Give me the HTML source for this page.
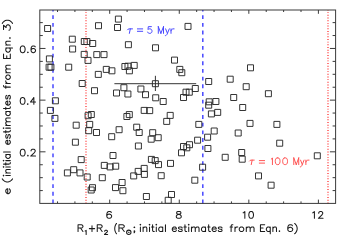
<!DOCTYPE html>
<html><head><meta charset="utf-8"><title>plot</title>
<style>html,body{margin:0;padding:0;background:#fff;}svg{display:block;}text{font-family:"Liberation Sans",sans-serif;}</style></head>
<body>
<svg width="339" height="244" viewBox="0 0 339 244">
<rect width="339" height="244" fill="#fff"/>
<g fill="none">
<line x1="53.0" y1="203.4" x2="53.0" y2="10.0" stroke="#4848ff" stroke-width="1.5" stroke-dasharray="3.85 3.83"/>
<line x1="202.8" y1="203.4" x2="202.8" y2="10.0" stroke="#4848ff" stroke-width="1.5" stroke-dasharray="3.85 3.83"/>
<line x1="86.0" y1="203.4" x2="86.0" y2="10.0" stroke="#ff3232" stroke-width="1.3" stroke-dasharray="0.95 1.73"/>
<line x1="328.0" y1="203.4" x2="328.0" y2="10.0" stroke="#ff3232" stroke-width="1.3" stroke-dasharray="0.95 1.73"/>
</g>
<g fill="none" stroke="#2a2a2a" stroke-width="0.95">
<path d="M44.6 25.5h6v6h-6zM69.3 36.2h6v6h-6zM69.6 46.0h6v6h-6zM81.3 38.5h6v6h-6zM83.9 38.5h6v6h-6zM89.7 40.5h6v6h-6zM95.5 22.7h6v6h-6zM115.4 16.1h6v6h-6zM114.5 24.5h6v6h-6zM81.2 51.4h6v6h-6zM93.8 51.6h6v6h-6zM101.0 51.6h6v6h-6zM85.0 57.4h6v6h-6zM46.4 55.9h6v6h-6zM46.1 64.2h6v6h-6zM47.9 64.2h6v6h-6zM65.7 64.2h6v6h-6zM103.3 66.4h6v6h-6zM125.4 41.7h6v6h-6zM152.5 44.8h6v6h-6zM185.0 23.4h6v6h-6zM171.5 57.1h6v6h-6zM121.9 63.5h6v6h-6zM125.0 63.2h6v6h-6zM131.2 62.4h6v6h-6zM176.8 66.4h6v6h-6zM247.5 64.8h6v6h-6zM108.9 67.8h6v6h-6zM95.3 71.4h6v6h-6zM79.2 80.5h6v6h-6zM91.5 87.7h6v6h-6zM113.5 90.0h6v6h-6zM52.4 97.8h6v6h-6zM47.4 107.4h6v6h-6zM85.1 112.7h6v6h-6zM88.3 111.5h6v6h-6zM51.9 115.4h6v6h-6zM126.4 67.8h6v6h-6zM178.8 69.7h6v6h-6zM152.4 80.7h6v6h-6zM120.9 84.7h6v6h-6zM124.9 91.0h6v6h-6zM137.9 86.0h6v6h-6zM142.5 91.7h6v6h-6zM152.7 94.8h6v6h-6zM160.2 98.5h6v6h-6zM180.5 94.5h6v6h-6zM183.0 89.2h6v6h-6zM186.3 89.2h6v6h-6zM192.3 85.5h6v6h-6zM141.2 107.4h6v6h-6zM146.7 107.6h6v6h-6zM123.9 113.5h6v6h-6zM126.3 111.6h6v6h-6zM167.2 112.4h6v6h-6zM205.7 78.5h6v6h-6zM227.2 76.2h6v6h-6zM243.2 83.7h6v6h-6zM265.4 90.7h6v6h-6zM230.7 94.5h6v6h-6zM206.2 98.8h6v6h-6zM205.7 102.2h6v6h-6zM212.9 98.5h6v6h-6zM239.7 104.5h6v6h-6zM208.4 110.9h6v6h-6zM214.7 109.4h6v6h-6zM73.2 122.2h6v6h-6zM86.7 121.4h6v6h-6zM85.7 127.7h6v6h-6zM93.5 129.5h6v6h-6zM116.1 126.7h6v6h-6zM108.7 133.7h6v6h-6zM72.4 139.2h6v6h-6zM110.0 152.5h6v6h-6zM78.2 156.6h6v6h-6zM101.3 162.4h6v6h-6zM107.1 163.9h6v6h-6zM112.7 163.2h6v6h-6zM163.7 118.4h6v6h-6zM133.7 124.2h6v6h-6zM136.2 129.5h6v6h-6zM149.7 129.7h6v6h-6zM148.2 136.2h6v6h-6zM155.2 134.7h6v6h-6zM135.4 143.0h6v6h-6zM195.8 121.4h6v6h-6zM194.6 137.2h6v6h-6zM186.5 141.7h6v6h-6zM183.8 144.8h6v6h-6zM180.5 143.5h6v6h-6zM178.5 149.8h6v6h-6zM148.4 156.4h6v6h-6zM152.2 157.6h6v6h-6zM155.5 161.6h6v6h-6zM167.5 160.4h6v6h-6zM141.2 165.4h6v6h-6zM247.0 120.4h6v6h-6zM211.2 128.0h6v6h-6zM235.2 130.0h6v6h-6zM204.6 134.2h6v6h-6zM204.9 145.5h6v6h-6zM222.2 154.3h6v6h-6zM238.7 149.5h6v6h-6zM239.2 156.2h6v6h-6zM199.6 164.2h6v6h-6zM273.9 121.4h6v6h-6zM276.7 140.2h6v6h-6zM314.3 152.8h6v6h-6zM70.7 166.7h6v6h-6zM64.4 169.9h6v6h-6zM77.0 169.9h6v6h-6zM84.2 174.0h6v6h-6zM99.3 174.7h6v6h-6zM89.5 184.7h6v6h-6zM88.2 187.0h6v6h-6zM112.5 184.6h6v6h-6zM119.1 179.5h6v6h-6zM135.2 168.4h6v6h-6zM141.4 171.4h6v6h-6zM130.7 172.9h6v6h-6zM158.2 172.7h6v6h-6zM119.9 187.7h6v6h-6zM191.8 177.2h6v6h-6zM143.4 193.5h6v6h-6zM168.5 191.5h6v6h-6zM165.2 197.3h6v6h-6zM255.5 172.9h6v6h-6zM268.1 182.2h6v6h-6z"/>
<path d="M114.4 83.7H196.2M155.4 75.8V91.0"/>
</g>
<g fill="none" stroke="#3a3a3a" stroke-width="1">
<rect x="39.8" y="10.0" width="295.8" height="193.4"/>
<path d="M57.53 203.4v-2.0M57.53 10.0v2.0M74.92 203.4v-2.0M74.92 10.0v2.0M92.31 203.4v-2.0M92.31 10.0v2.0M109.70 203.4v-3.8M109.70 10.0v3.8M127.09 203.4v-2.0M127.09 10.0v2.0M144.48 203.4v-2.0M144.48 10.0v2.0M161.87 203.4v-2.0M161.87 10.0v2.0M179.27 203.4v-3.8M179.27 10.0v3.8M196.66 203.4v-2.0M196.66 10.0v2.0M214.05 203.4v-2.0M214.05 10.0v2.0M231.44 203.4v-2.0M231.44 10.0v2.0M248.83 203.4v-3.8M248.83 10.0v3.8M266.22 203.4v-2.0M266.22 10.0v2.0M283.62 203.4v-2.0M283.62 10.0v2.0M301.01 203.4v-2.0M301.01 10.0v2.0M318.40 203.4v-3.8M318.40 10.0v3.8M39.8 190.58h3.0M335.6 190.58h-3.0M39.8 177.66h3.0M335.6 177.66h-3.0M39.8 164.74h3.0M335.6 164.74h-3.0M39.8 151.82h5.7M335.6 151.82h-5.7M39.8 138.90h3.0M335.6 138.90h-3.0M39.8 125.98h3.0M335.6 125.98h-3.0M39.8 113.06h3.0M335.6 113.06h-3.0M39.8 100.14h5.7M335.6 100.14h-5.7M39.8 87.22h3.0M335.6 87.22h-3.0M39.8 74.30h3.0M335.6 74.30h-3.0M39.8 61.38h3.0M335.6 61.38h-3.0M39.8 48.46h5.7M335.6 48.46h-5.7M39.8 35.54h3.0M335.6 35.54h-3.0M39.8 22.62h3.0M335.6 22.62h-3.0"/>
</g>
<path d="M111.27 212.5L110.9 211.86L109.77 211.54L109.01 211.54L107.88 211.86L107.13 212.83L106.75 214.44L106.75 216.05L107.13 217.33L107.88 217.98L109.01 218.3L109.39 218.3L110.52 217.98L111.27 217.33L111.65 216.37L111.65 216.05L111.27 215.08L110.52 214.44L109.39 214.11L109.01 214.11L107.88 214.44L107.13 215.08L106.75 216.05M178.07 211.54L177.02 211.86L176.67 212.5L176.67 213.15L177.02 213.79L177.72 214.11L179.12 214.44L180.17 214.76L180.87 215.4L181.22 216.05L181.22 217.01L180.87 217.66L180.52 217.98L179.47 218.3L178.07 218.3L177.02 217.98L176.67 217.66L176.32 217.01L176.32 216.05L176.67 215.4L177.37 214.76L178.42 214.44L179.82 214.11L180.52 213.79L180.87 213.15L180.87 212.5L180.52 211.86L179.47 211.54L178.07 211.54M243.18 212.83L243.85 212.5L244.84 211.54L244.84 218.3M250.82 211.54L249.83 211.86L249.16 212.83L248.83 214.44L248.83 215.4L249.16 217.01L249.83 217.98L250.82 218.3L251.49 218.3L252.49 217.98L253.15 217.01L253.48 215.4L253.48 214.44L253.15 212.83L252.49 211.86L251.49 211.54L250.82 211.54M312.75 212.83L313.41 212.5L314.41 211.54L314.41 218.3M318.73 213.15L318.73 212.83L319.06 212.18L319.39 211.86L320.06 211.54L321.39 211.54L322.05 211.86L322.38 212.18L322.72 212.83L322.72 213.47L322.38 214.11L321.72 215.08L318.4 218.3L323.05 218.3M22.34 45.9L21.29 46.22L20.6 47.19L20.25 48.8L20.25 49.76L20.6 51.37L21.29 52.34L22.34 52.66L23.03 52.66L24.07 52.34L24.77 51.37L25.12 49.76L25.12 48.8L24.77 47.19L24.07 46.22L23.03 45.9L22.34 45.9M27.9 52.02L27.55 52.34L27.9 52.66L28.25 52.34L27.9 52.02M35.2 46.86L34.85 46.22L33.81 45.9L33.12 45.9L32.07 46.22L31.38 47.19L31.03 48.8L31.03 50.41L31.38 51.69L32.07 52.34L33.12 52.66L33.46 52.66L34.51 52.34L35.2 51.69L35.55 50.73L35.55 50.41L35.2 49.44L34.51 48.8L33.46 48.47L33.12 48.47L32.07 48.8L31.38 49.44L31.03 50.41M22.29 97.58L21.27 97.9L20.59 98.87L20.25 100.48L20.25 101.44L20.59 103.05L21.27 104.02L22.29 104.34L22.97 104.34L23.99 104.02L24.67 103.05L25.01 101.44L25.01 100.48L24.67 98.87L23.99 97.9L22.97 97.58L22.29 97.58M27.73 103.7L27.39 104.02L27.73 104.34L28.07 104.02L27.73 103.7M33.85 97.58L30.45 102.09L35.55 102.09M33.85 97.58L33.85 104.34M22.34 149.26L21.29 149.58L20.6 150.55L20.25 152.16L20.25 153.12L20.6 154.73L21.29 155.7L22.34 156.02L23.03 156.02L24.07 155.7L24.77 154.73L25.12 153.12L25.12 152.16L24.77 150.55L24.07 149.58L23.03 149.26L22.34 149.26M27.9 155.38L27.55 155.7L27.9 156.02L28.25 155.7L27.9 155.38M31.03 150.87L31.03 150.55L31.38 149.9L31.73 149.58L32.42 149.26L33.81 149.26L34.51 149.58L34.85 149.9L35.2 150.55L35.2 151.19L34.85 151.83L34.16 152.8L30.68 156.02L35.55 156.02M78.05 224.74L78.05 231.5M78.05 224.74L81.2 224.74L82.25 225.06L82.6 225.38L82.95 226.03L82.95 226.67L82.6 227.31L82.25 227.64L81.2 227.96L78.05 227.96M80.5 227.96L82.95 231.5M85.15 231.06L85.55 230.86L86.15 230.26L86.15 234.45M92 225.7L92 231.5M89.35 228.6L94.65 228.6M97.25 224.74L97.25 231.5M97.25 224.74L100.4 224.74L101.45 225.06L101.8 225.38L102.15 226.03L102.15 226.67L101.8 227.31L101.45 227.64L100.4 227.96L97.25 227.96M99.7 227.96L102.15 231.5M104.68 231.26L104.68 231.06L104.91 230.66L105.14 230.46L105.59 230.26L106.51 230.26L106.96 230.46L107.19 230.66L107.42 231.06L107.42 231.46L107.19 231.85L106.74 232.45L104.45 234.45L107.65 234.45M116.55 223.45L116.04 224.09L115.52 225.06L115.01 226.35L114.75 227.96L114.75 229.25L115.01 230.86L115.52 232.14L116.04 233.11L116.55 233.75M118.95 224.74L118.95 231.5M118.95 224.74L122.36 224.74L123.49 225.06L123.87 225.38L124.25 226.03L124.25 226.67L123.87 227.31L123.49 227.64L122.36 227.96L118.95 227.96M121.6 227.96L124.25 231.5M134.35 226.99L133.95 227.31L134.35 227.64L134.75 227.31L134.35 226.99M134.75 231.18L134.35 231.5L133.95 231.18L134.35 230.86L134.75 231.18L134.75 231.82L134.35 232.47L133.95 232.79M126.60000000000001 232.3a2.2 2.2 0 1 0 4.4 0a2.2 2.2 0 1 0 -4.4 0M128.45000000000002 232.3h0.7M140.05 224.74L140.39 225.06L140.73 224.74L140.39 224.42L140.05 224.74M140.39 226.99L140.39 231.5M143.1 226.99L143.1 231.5M143.1 228.28L144.11 227.31L144.79 226.99L145.81 226.99L146.48 227.31L146.82 228.28L146.82 231.5M149.19 224.74L149.53 225.06L149.87 224.74L149.53 224.42L149.19 224.74M149.53 226.99L149.53 231.5M152.58 224.74L152.58 230.21L152.92 231.18L153.6 231.5L154.27 231.5M151.56 226.99L153.94 226.99M155.97 224.74L156.31 225.06L156.64 224.74L156.31 224.42L155.97 224.74M156.31 226.99L156.31 231.5M162.74 226.99L162.74 231.5M162.74 227.96L162.06 227.31L161.39 226.99L160.37 226.99L159.69 227.31L159.02 227.96L158.68 228.92L158.68 229.57L159.02 230.53L159.69 231.18L160.37 231.5L161.39 231.5L162.06 231.18L162.74 230.53M165.45 224.74L165.45 231.5M172.25 228.92L176.37 228.92L176.37 228.28L176.03 227.64L175.68 227.31L175 226.99L173.97 226.99L173.28 227.31L172.59 227.96L172.25 228.92L172.25 229.57L172.59 230.53L173.28 231.18L173.97 231.5L175 231.5L175.68 231.18L176.37 230.53M182.21 227.96L181.87 227.31L180.84 226.99L179.81 226.99L178.78 227.31L178.43 227.96L178.78 228.6L179.46 228.92L181.18 229.25L181.87 229.57L182.21 230.21L182.21 230.53L181.87 231.18L180.84 231.5L179.81 231.5L178.78 231.18L178.43 230.53M184.96 224.74L184.96 230.21L185.3 231.18L185.99 231.5L186.67 231.5M183.93 226.99L186.33 226.99M188.39 224.74L188.74 225.06L189.08 224.74L188.74 224.42L188.39 224.74M188.74 226.99L188.74 231.5M191.48 226.99L191.48 231.5M191.48 228.28L192.51 227.31L193.2 226.99L194.23 226.99L194.92 227.31L195.26 228.28L195.26 231.5M195.26 228.28L196.29 227.31L196.98 226.99L198.01 226.99L198.7 227.31L199.04 228.28L199.04 231.5M205.56 226.99L205.56 231.5M205.56 227.96L204.88 227.31L204.19 226.99L203.16 226.99L202.47 227.31L201.79 227.96L201.44 228.92L201.44 229.57L201.79 230.53L202.47 231.18L203.16 231.5L204.19 231.5L204.88 231.18L205.56 230.53M208.66 224.74L208.66 230.21L209 231.18L209.69 231.5L210.37 231.5M207.63 226.99L210.03 226.99M212.09 228.92L216.21 228.92L216.21 228.28L215.87 227.64L215.52 227.31L214.84 226.99L213.81 226.99L213.12 227.31L212.43 227.96L212.09 228.92L212.09 229.57L212.43 230.53L213.12 231.18L213.81 231.5L214.84 231.5L215.52 231.18L216.21 230.53M222.05 227.96L221.71 227.31L220.68 226.99L219.65 226.99L218.62 227.31L218.27 227.96L218.62 228.6L219.3 228.92L221.02 229.25L221.71 229.57L222.05 230.21L222.05 230.53L221.71 231.18L220.68 231.5L219.65 231.5L218.62 231.18L218.27 230.53M232.87 224.74L232.17 224.74L231.46 225.06L231.11 226.03L231.11 231.5M230.05 226.99L232.52 226.99M234.99 226.99L234.99 231.5M234.99 228.92L235.34 227.96L236.05 227.31L236.76 226.99L237.81 226.99M240.99 226.99L240.29 227.31L239.58 227.96L239.23 228.92L239.23 229.57L239.58 230.53L240.29 231.18L240.99 231.5L242.05 231.5L242.76 231.18L243.46 230.53L243.81 229.57L243.81 228.92L243.46 227.96L242.76 227.31L242.05 226.99L240.99 226.99M246.29 226.99L246.29 231.5M246.29 228.28L247.34 227.31L248.05 226.99L249.11 226.99L249.81 227.31L250.17 228.28L250.17 231.5M250.17 228.28L251.23 227.31L251.93 226.99L252.99 226.99L253.7 227.31L254.05 228.28L254.05 231.5M260.45 224.74L260.45 231.5M260.45 224.74L264.7 224.74M260.45 227.96L263.07 227.96M260.45 231.5L264.7 231.5M270.26 226.99L270.26 233.75M270.26 227.96L269.61 227.31L268.96 226.99L267.97 226.99L267.32 227.31L266.67 227.96L266.34 228.92L266.34 229.57L266.67 230.53L267.32 231.18L267.97 231.5L268.96 231.5L269.61 231.18L270.26 230.53M272.88 226.99L272.88 231.5M272.88 228.28L273.86 227.31L274.52 226.99L275.5 226.99L276.15 227.31L276.48 228.28L276.48 231.5M279.42 230.86L279.1 231.18L279.42 231.5L279.75 231.18L279.42 230.86M292.37 225.7L291.98 225.06L290.83 224.74L290.06 224.74L288.9 225.06L288.13 226.03L287.75 227.64L287.75 229.25L288.13 230.53L288.9 231.18L290.06 231.5L290.44 231.5L291.6 231.18L292.37 230.53L292.75 229.57L292.75 229.25L292.37 228.28L291.6 227.64L290.44 227.31L290.06 227.31L288.9 227.64L288.13 228.28L287.75 229.25M294.65 223.45L295.36 224.09L296.08 225.06L296.79 226.35L297.15 227.96L297.15 229.25L296.79 230.86L296.08 232.14L295.36 233.11L294.65 233.75" fill="none" stroke="#1c1c1c" stroke-width="1.05" stroke-linecap="round" stroke-linejoin="round"/>
<path transform="translate(10.3,0) rotate(-90)" d="M-193.65 -2.58L-188.85 -2.58L-188.85 -3.22L-189.25 -3.86L-189.65 -4.19L-190.45 -4.51L-191.65 -4.51L-192.45 -4.19L-193.25 -3.54L-193.65 -2.58L-193.65 -1.93L-193.25 -0.97L-192.45 -0.32L-191.65 0L-190.45 0L-189.65 -0.32L-188.85 -0.97M-178.85 -8.05L-179.74 -7.41L-180.62 -6.44L-181.51 -5.15L-181.95 -3.54L-181.95 -2.25L-181.51 -0.64L-180.62 0.64L-179.74 1.61L-178.85 2.25M-175.85 -6.76L-175.53 -6.44L-175.22 -6.76L-175.53 -7.08L-175.85 -6.76M-175.53 -4.51L-175.53 0M-172.99 -4.51L-172.99 0M-172.99 -3.22L-172.04 -4.19L-171.41 -4.51L-170.46 -4.51L-169.82 -4.19L-169.5 -3.22L-169.5 0M-167.28 -6.76L-166.96 -6.44L-166.65 -6.76L-166.96 -7.08L-167.28 -6.76M-166.96 -4.51L-166.96 0M-164.11 -6.76L-164.11 -1.29L-163.79 -0.32L-163.16 0L-162.52 0M-165.06 -4.51L-162.84 -4.51M-160.94 -6.76L-160.62 -6.44L-160.3 -6.76L-160.62 -7.08L-160.94 -6.76M-160.62 -4.51L-160.62 0M-154.59 -4.51L-154.59 0M-154.59 -3.54L-155.22 -4.19L-155.86 -4.51L-156.81 -4.51L-157.44 -4.19L-158.08 -3.54L-158.4 -2.58L-158.4 -1.93L-158.08 -0.97L-157.44 -0.32L-156.81 0L-155.86 0L-155.22 -0.32L-154.59 -0.97M-152.05 -6.76L-152.05 0M-144.35 -2.58L-140.29 -2.58L-140.29 -3.22L-140.63 -3.86L-140.97 -4.19L-141.65 -4.51L-142.66 -4.51L-143.34 -4.19L-144.01 -3.54L-144.35 -2.58L-144.35 -1.93L-144.01 -0.97L-143.34 -0.32L-142.66 0L-141.65 0L-140.97 -0.32L-140.29 -0.97M-134.55 -3.54L-134.89 -4.19L-135.9 -4.51L-136.92 -4.51L-137.93 -4.19L-138.27 -3.54L-137.93 -2.9L-137.25 -2.58L-135.56 -2.25L-134.89 -1.93L-134.55 -1.29L-134.55 -0.97L-134.89 -0.32L-135.9 0L-136.92 0L-137.93 -0.32L-138.27 -0.97M-131.85 -6.76L-131.85 -1.29L-131.51 -0.32L-130.83 0L-130.16 0M-132.86 -4.51L-130.49 -4.51M-128.47 -6.76L-128.13 -6.44L-127.79 -6.76L-128.13 -7.08L-128.47 -6.76M-128.13 -4.51L-128.13 0M-125.43 -4.51L-125.43 0M-125.43 -3.22L-124.41 -4.19L-123.74 -4.51L-122.72 -4.51L-122.05 -4.19L-121.71 -3.22L-121.71 0M-121.71 -3.22L-120.69 -4.19L-120.02 -4.51L-119.01 -4.51L-118.33 -4.19L-117.99 -3.22L-117.99 0M-111.57 -4.51L-111.57 0M-111.57 -3.54L-112.25 -4.19L-112.92 -4.51L-113.94 -4.51L-114.61 -4.19L-115.29 -3.54L-115.63 -2.58L-115.63 -1.93L-115.29 -0.97L-114.61 -0.32L-113.94 0L-112.92 0L-112.25 -0.32L-111.57 -0.97M-108.53 -6.76L-108.53 -1.29L-108.19 -0.32L-107.52 0L-106.84 0M-109.54 -4.51L-107.18 -4.51M-105.15 -2.58L-101.09 -2.58L-101.09 -3.22L-101.43 -3.86L-101.77 -4.19L-102.45 -4.51L-103.46 -4.51L-104.14 -4.19L-104.81 -3.54L-105.15 -2.58L-105.15 -1.93L-104.81 -0.97L-104.14 -0.32L-103.46 0L-102.45 0L-101.77 -0.32L-101.09 -0.97M-95.35 -3.54L-95.69 -4.19L-96.7 -4.51L-97.72 -4.51L-98.73 -4.19L-99.07 -3.54L-98.73 -2.9L-98.05 -2.58L-96.36 -2.25L-95.69 -1.93L-95.35 -1.29L-95.35 -0.97L-95.69 -0.32L-96.7 0L-97.72 0L-98.73 -0.32L-99.07 -0.97M-85.46 -6.76L-86.13 -6.76L-86.8 -6.44L-87.14 -5.47L-87.14 0M-88.15 -4.51L-85.79 -4.51M-83.44 -4.51L-83.44 0M-83.44 -2.58L-83.1 -3.54L-82.42 -4.19L-81.75 -4.51L-80.74 -4.51M-77.71 -4.51L-78.38 -4.19L-79.06 -3.54L-79.39 -2.58L-79.39 -1.93L-79.06 -0.97L-78.38 -0.32L-77.71 0L-76.7 0L-76.03 -0.32L-75.35 -0.97L-75.02 -1.93L-75.02 -2.58L-75.35 -3.54L-76.03 -4.19L-76.7 -4.51L-77.71 -4.51M-72.66 -4.51L-72.66 0M-72.66 -3.22L-71.65 -4.19L-70.97 -4.51L-69.96 -4.51L-69.29 -4.19L-68.95 -3.22L-68.95 0M-68.95 -3.22L-67.94 -4.19L-67.27 -4.51L-66.26 -4.51L-65.59 -4.19L-65.25 -3.22L-65.25 0M-58.55 -6.76L-58.55 0M-58.55 -6.76L-53.94 -6.76M-58.55 -3.54L-55.72 -3.54M-58.55 0L-53.94 0M-47.92 -4.51L-47.92 2.25M-47.92 -3.54L-48.63 -4.19L-49.34 -4.51L-50.4 -4.51L-51.11 -4.19L-51.82 -3.54L-52.17 -2.58L-52.17 -1.93L-51.82 -0.97L-51.11 -0.32L-50.4 0L-49.34 0L-48.63 -0.32L-47.92 -0.97M-45.09 -4.51L-45.09 0M-45.09 -3.22L-44.03 -4.19L-43.32 -4.51L-42.26 -4.51L-41.55 -4.19L-41.19 -3.22L-41.19 0M-38 -0.64L-38.36 -0.32L-38 0L-37.65 -0.32L-38 -0.64M-29.48 -6.76L-25.24 -6.76L-27.55 -4.19L-26.39 -4.19L-25.62 -3.86L-25.24 -3.54L-24.85 -2.58L-24.85 -1.93L-25.24 -0.97L-26.01 -0.32L-27.16 0L-28.32 0L-29.48 -0.32L-29.86 -0.64L-30.25 -1.29M-23.35 -8.05L-22.44 -7.41L-21.52 -6.44L-20.61 -5.15L-20.15 -3.54L-20.15 -2.25L-20.61 -0.64L-21.52 0.64L-22.44 1.61L-23.35 2.25" fill="none" stroke="#1c1c1c" stroke-width="1.05" stroke-linecap="round" stroke-linejoin="round"/>
<path d="M130.31 28.87L129.38 33.35M127.5 29.83L128.12 29.19L129.06 28.87L132.5 28.87M151.39 26.63L148.31 26.63L148.01 29.51L148.31 29.19L149.24 28.87L150.16 28.87L151.08 29.19L151.69 29.83L152 30.79L152 31.43L151.69 32.39L151.08 33.03L150.16 33.35L149.24 33.35L148.31 33.03L148.01 32.71L147.7 32.07M158.3 26.63L158.3 33.35M158.3 26.63L160.9 33.35M163.5 26.63L160.9 33.35M163.5 26.63L163.5 33.35M165.61 28.87L167.45 33.35M169.3 28.87L167.45 33.35L166.84 34.63L166.22 35.27L165.61 35.59L165.3 35.59M171 28.87L171 33.35M171 30.79L171.39 29.83L172.16 29.19L172.94 28.87L174.1 28.87M137.4 28.9H142.7M137.4 31.3H142.7" fill="none" stroke="#4848ff" stroke-width="1.0" stroke-linecap="round" stroke-linejoin="round"/>
<path d="M252.15 160.12L251.26 164.6M249.47 161.08L250.07 160.44L250.96 160.12L254.22 160.12M271.28 159.16L271.74 158.84L272.43 157.88L272.43 164.6M277.31 157.88L276.29 158.2L275.61 159.16L275.28 160.76L275.28 161.72L275.61 163.32L276.29 164.28L277.31 164.6L277.99 164.6L279.01 164.28L279.69 163.32L280.02 161.72L280.02 160.76L279.69 159.16L279.01 158.2L277.99 157.88L277.31 157.88M284.75 157.88L283.71 158.2L283.02 159.16L282.68 160.76L282.68 161.72L283.02 163.32L283.71 164.28L284.75 164.6L285.45 164.6L286.49 164.28L287.18 163.32L287.53 161.72L287.53 160.76L287.18 159.16L286.49 158.2L285.45 157.88L284.75 157.88M293.78 157.88L293.78 164.6M293.78 157.88L296.25 164.6M298.73 157.88L296.25 164.6M298.73 157.88L298.73 164.6M300.56 160.12L302.29 164.6M304.03 160.12L302.29 164.6L301.72 165.88L301.14 166.52L300.56 166.84L300.28 166.84M305.88 160.12L305.88 164.6M305.88 162.04L306.27 161.08L307.06 160.44L307.84 160.12L309.03 160.12M259.3 160.6H264.6M259.3 163.1H264.6" fill="none" stroke="#ff4c4c" stroke-width="0.95" stroke-linecap="round" stroke-linejoin="round"/>
</svg>
</body></html>
